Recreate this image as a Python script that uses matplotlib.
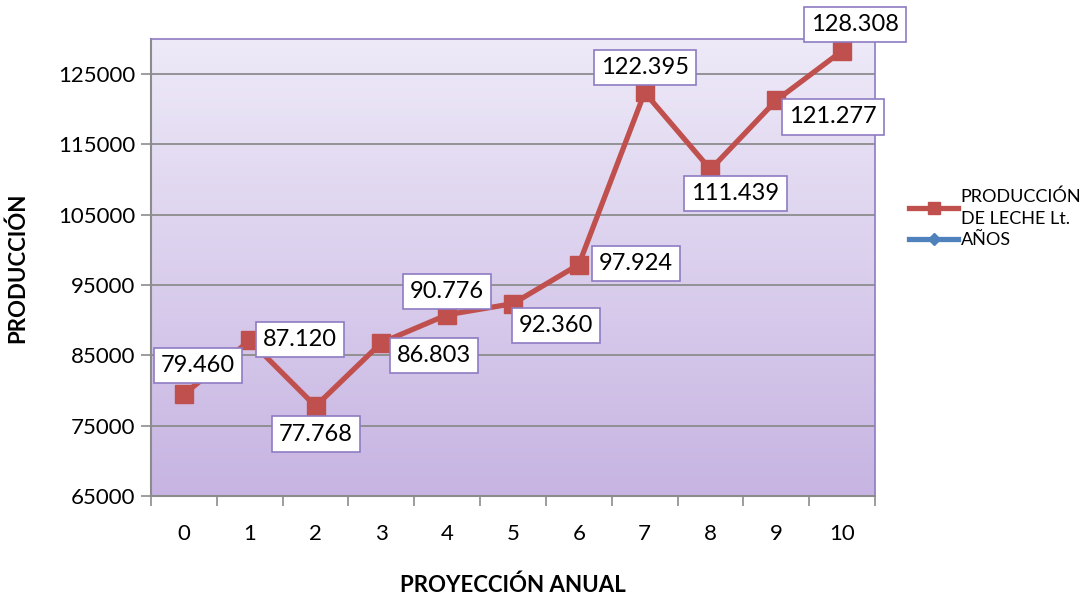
import numpy as np
import matplotlib
matplotlib.use("Agg")
import matplotlib.pyplot as plt
from matplotlib.colors import LinearSegmentedColormap

plt.rcParams['font.family'] = ['Lato', 'DejaVu Sans']

years = [0, 1, 2, 3, 4, 5, 6, 7, 8, 9, 10]
produccion = [79460, 87120, 77768, 86803, 90776, 92360, 97924, 122395, 111439, 121277, 128308]
labels = ["79.460", "87.120", "77.768", "86.803", "90.776", "92.360",
          "97.924", "122.395", "111.439", "121.277", "128.308"]
# label offsets in points (dx, dy)
offsets = [(10, 21), (36, 1), (0, -20), (38, -9), (0, 17), (31, -16),
           (41, 1), (0, 18), (18, -17), (41, -12), (9, 19)]

fig = plt.figure(figsize=(10.89, 5.94), dpi=100)
ax = fig.add_axes([151 / 1089, 1 - 496 / 594, 724 / 1089, 457 / 594])

# gradient background
cmap = LinearSegmentedColormap.from_list("bg", ["#EEEAF8", "#C7B4E2"])
grad = np.linspace(0, 1, 256).reshape(-1, 1)
ax.imshow(grad, aspect='auto', cmap=cmap, extent=[0, 1, 0, 1],
          transform=ax.transAxes, zorder=0)

ax.set_xlim(-0.5, 10.5)
ax.set_ylim(65000, 130000)
ax.set_yticks(range(65000, 130001, 10000))
ax.set_xticks(years)
ax.set_xticks(np.arange(-0.5, 11, 1), minor=True)
ax.tick_params(axis='x', which='major', length=0, pad=20, labelsize=16)
ax.tick_params(axis='x', which='minor', length=7, color='#8C8C8C', width=1.2)
ax.tick_params(axis='y', length=7, color='#8C8C8C', width=1.2, labelsize=16, pad=4)
ax.grid(axis='y', color='#8C8C8C', linewidth=1.3, zorder=1)

for s in ['left', 'bottom']:
    ax.spines[s].set_color('#8C8C8C')
    ax.spines[s].set_linewidth(1.5)
for s in ['top', 'right']:
    ax.spines[s].set_color('#8E7CC3')
    ax.spines[s].set_linewidth(1.2)

ax.plot(years, produccion, color='#C0504D', linewidth=3.8, marker='s',
        markersize=13, zorder=3, label="PRODUCCIÓN\nDE LECHE Lt.")
ax.plot(years, years, color='#4F81BD', linewidth=3.8, marker='D',
        markersize=6, zorder=3, label="AÑOS")

for x, y, t, (dx, dy) in zip(years, produccion, labels, offsets):
    ax.annotate(t, (x, y), xytext=(dx, dy), textcoords='offset points',
                ha='center', va='center', fontsize=17, zorder=5,
                bbox=dict(boxstyle='square,pad=0.3', fc='white', ec='#8E7CC3', lw=1.2),
                annotation_clip=False)

ax.set_xlabel("PROYECCIÓN ANUAL", fontsize=16, fontweight='bold', labelpad=22)
ax.set_ylabel("PRODUCCIÓN", fontsize=16, fontweight='bold', labelpad=22)

leg = fig.legend(loc='upper left', bbox_to_anchor=(893 / 1089, 1 - 172 / 594),
                 frameon=False, fontsize=13, handlelength=2.7, labelspacing=0.3,
                 handletextpad=0.15)
for t in leg.get_texts():
    t.set_linespacing(1.45)
leg.legend_handles[0].set_markersize(9)
leg.legend_handles[1].set_markersize(6)

fig.savefig("out.png", dpi=100)
